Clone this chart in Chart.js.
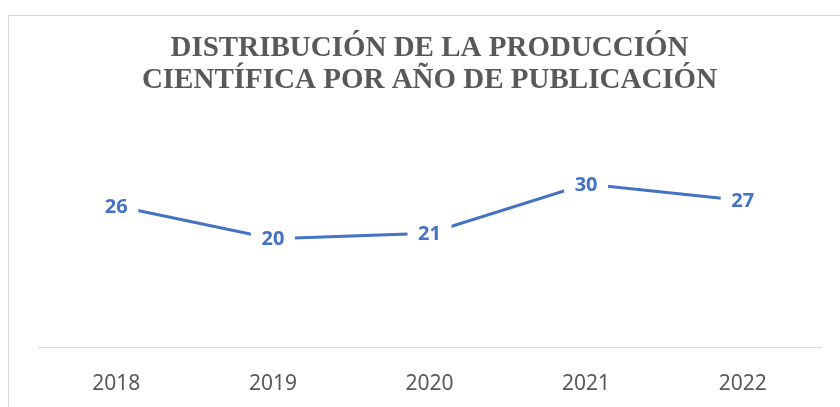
<!DOCTYPE html>
<html>
<head>
<meta charset="utf-8">
<script src="https://cdn.jsdelivr.net/npm/chart.js@4"></script>
<style>
  body { margin: 0; background: #fff; overflow: hidden; }
  #frame { position: absolute; left: 8px; top: 15px; width: 900px; height: 500px; border: 1px solid #d9d9d9; }
  #wrap { position: absolute; left: 0; top: 0; width: 840px; height: 407px; }
</style>
</head>
<body>
<div id="frame"></div>
<div id="wrap"><canvas id="chart"></canvas></div>
<script>
const years = ["2018", "2019", "2020", "2021", "2022"];
const publications = [26, 20, 21, 30, 27];
const titleLines = ["DISTRIBUCIÓN DE LA PRODUCCIÓN", "CIENTÍFICA POR AÑO DE PUBLICACIÓN"];

// labels sit on the points, with a white box that cuts the line like Excel does
const pointLabels = {
  id: "pointLabels",
  afterDatasetsDraw(chart) {
    const ctx = chart.ctx;
    const meta = chart.getDatasetMeta(0);
    ctx.save();
    ctx.font = "bold 20px 'Noto Sans'";
    ctx.textAlign = "center";
    ctx.textBaseline = "middle";
    meta.data.forEach((pt, i) => {
      ctx.fillStyle = "#fff";
      ctx.fillRect(pt.x - 22, pt.y - 13, 44, 26);
      ctx.fillStyle = "#4472C4";
      ctx.fillText(String(publications[i]), pt.x, pt.y + 1);
    });
    ctx.restore();
  }
};

new Chart(document.getElementById("chart"), {
  type: "line",
  data: {
    labels: years,
    datasets: [
      {
        data: publications,
        borderColor: "#4472C4",
        borderWidth: 3,
        borderCapStyle: "round",
        pointRadius: 0,
        tension: 0,
      },
    ],
  },
  options: {
    responsive: true,
    maintainAspectRatio: false,
    animation: false,
    layout: { padding: { left: 38, right: 19, top: 33, bottom: -14 } },
    plugins: {
      legend: { display: false },
      tooltip: { enabled: false },
      title: {
        display: true,
        text: titleLines,
        color: "#595959",
        font: { family: "'Liberation Serif'", size: 29, weight: "bold", lineHeight: 1.1 },
        padding: { top: 0, bottom: 60 },
      },
    },
    scales: {
      x: {
        offset: true,
        grid: { display: false, drawTicks: false },
        border: { display: true, color: "#d9d9d9", width: 1 },
        ticks: { color: "#595959", font: { family: "'Noto Sans'", size: 21 }, padding: 24 },
      },
      y: {
        display: false,
        min: 0,
        max: 35,
      },
    },
  },
  plugins: [pointLabels],
});
</script>
</body>
</html>
